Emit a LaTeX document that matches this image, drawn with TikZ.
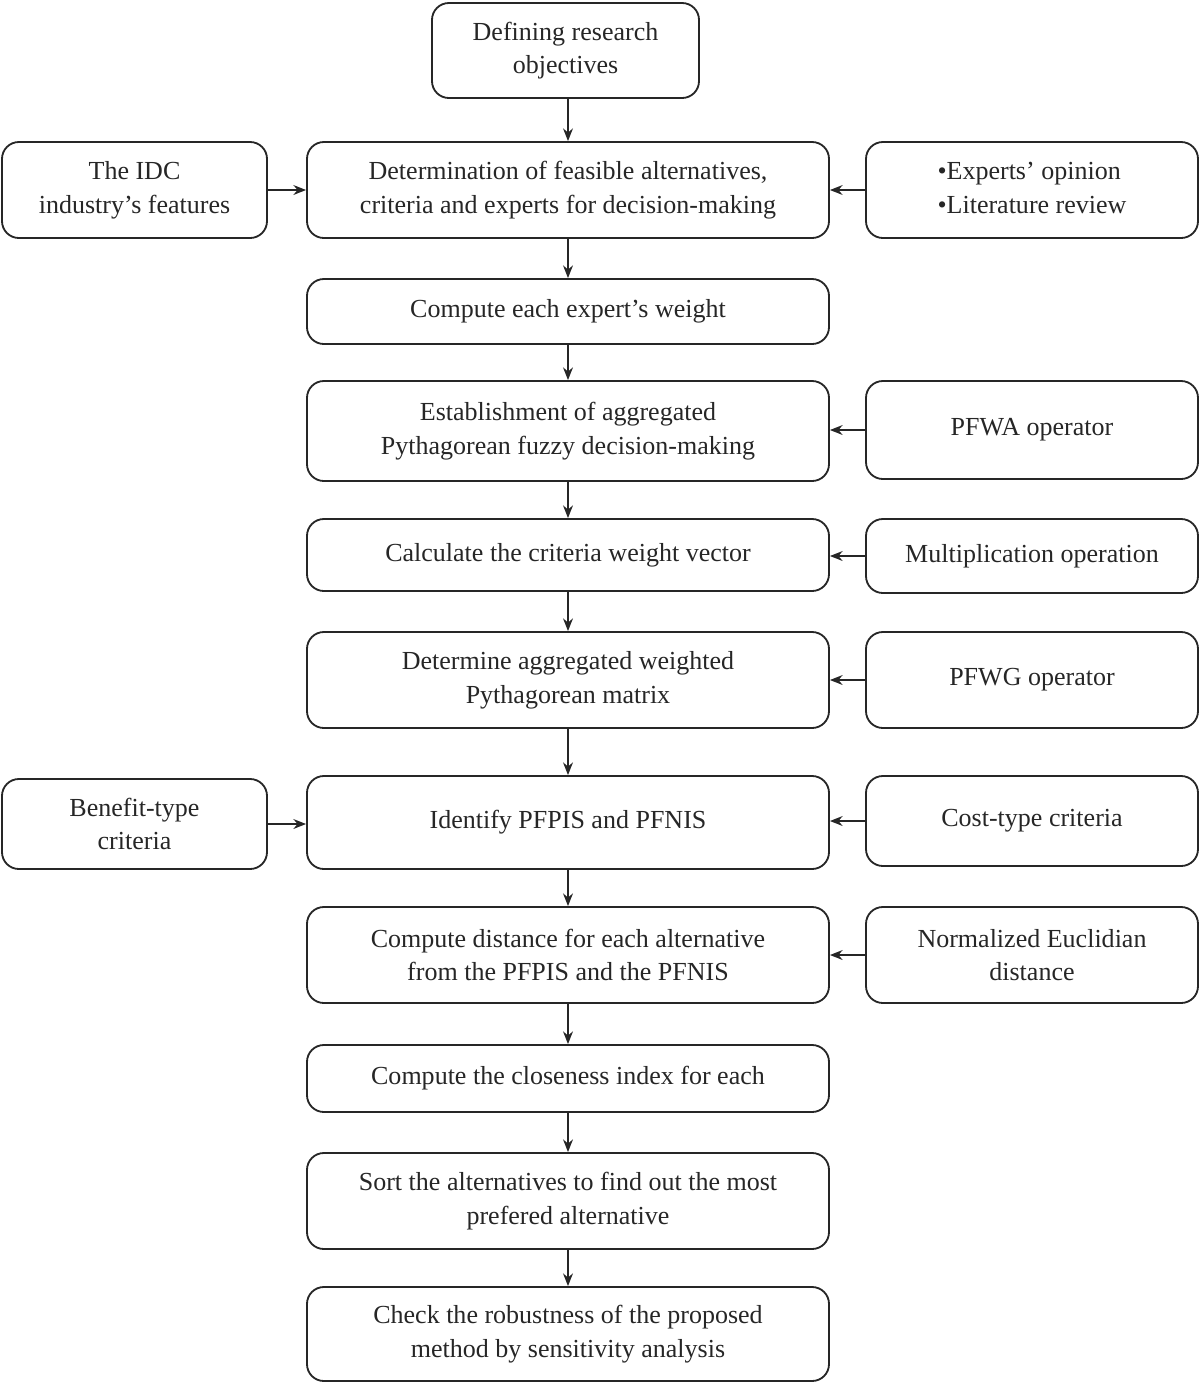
\documentclass[tikz,border=0pt]{standalone}
\usepackage{fontspec}
\setmainfont{Liberation Serif}
\usetikzlibrary{arrows.meta}
\begin{document}
\begin{tikzpicture}[x=0.025cm,y=-0.025cm,
  box/.style={draw=black!85,line width=1.3pt,rounded corners=12pt,align=center,inner sep=0pt,
    font=\fontsize{18.5}{24}\selectfont,text=black!85},
  arr/.style={-{Stealth[length=9pt,width=7pt]},line width=1.3pt,draw=black!85}]
\useasboundingbox (0,0) rectangle (1200,1384);
\def\mw{522}
\node[box,minimum width=267*0.025cm,minimum height=95*0.025cm] (top) at (565.5,50.5) {Defining research\\objectives};
\node[box,minimum width=\mw*0.025cm,minimum height=96*0.025cm] (b1) at (568,190) {Determination of feasible alternatives,\\criteria and experts for decision-making};
\node[box,minimum width=\mw*0.025cm,minimum height=65*0.025cm] (b2) at (568,311.5) {Compute each expert's weight};
\node[box,minimum width=\mw*0.025cm,minimum height=100*0.025cm] (b3) at (568,431) {Establishment of aggregated\\Pythagorean fuzzy decision-making};
\node[box,minimum width=\mw*0.025cm,minimum height=72*0.025cm] (b4) at (568,555) {Calculate the criteria weight vector};
\node[box,minimum width=\mw*0.025cm,minimum height=96*0.025cm] (b5) at (568,680) {Determine aggregated weighted\\Pythagorean matrix};
\node[box,minimum width=\mw*0.025cm,minimum height=93*0.025cm] (b6) at (568,822.5) {Identify PFPIS and PFNIS};
\node[box,minimum width=\mw*0.025cm,minimum height=96*0.025cm] (b7) at (568,955) {Compute distance for each alternative\\from the PFPIS and the PFNIS};
\node[box,minimum width=\mw*0.025cm,minimum height=67*0.025cm] (b8) at (568,1078.5) {Compute the closeness index for each};
\node[box,minimum width=\mw*0.025cm,minimum height=96*0.025cm] (b9) at (568,1201) {Sort the alternatives to find out the most\\prefered alternative};
\node[box,minimum width=\mw*0.025cm,minimum height=94*0.025cm] (b10) at (568,1334) {Check the robustness of the proposed\\method by sensitivity analysis};
\node[box,minimum width=265*0.025cm,minimum height=96*0.025cm] (l1) at (134.5,190) {The IDC\\industry's features};
\node[box,minimum width=265*0.025cm,minimum height=90*0.025cm] (l2) at (134.5,824) {Benefit-type\\criteria};
\node[box,minimum width=332*0.025cm,minimum height=96*0.025cm] (r1) at (1032,190) {\begin{tabular}{@{}l@{}}•Experts' opinion\\•Literature review\end{tabular}};
\node[box,minimum width=332*0.025cm,minimum height=98*0.025cm] (r2) at (1032,430) {PFWA operator};
\node[box,minimum width=332*0.025cm,minimum height=74*0.025cm] (r3) at (1032,556) {Multiplication operation};
\node[box,minimum width=332*0.025cm,minimum height=96*0.025cm] (r4) at (1032,680) {PFWG operator};
\node[box,minimum width=332*0.025cm,minimum height=90*0.025cm] (r5) at (1032,821) {Cost-type criteria};
\node[box,minimum width=332*0.025cm,minimum height=96*0.025cm] (r6) at (1032,955) {Normalized Euclidian\\distance};
\draw[arr] (top.south -| b1.north) -- (b1.north);
\draw[arr] (b1) -- (b2);
\draw[arr] (b2) -- (b3);
\draw[arr] (b3) -- (b4);
\draw[arr] (b4) -- (b5);
\draw[arr] (b5) -- (b6);
\draw[arr] (b6) -- (b7);
\draw[arr] (b7) -- (b8);
\draw[arr] (b8) -- (b9);
\draw[arr] (b9) -- (b10);
\draw[arr] (l1.east) -- (l1.east -| b1.west);
\draw[arr] (l2.east) -- (l2.east -| b6.west);
\draw[arr] (r1.west) -- (r1.west -| b1.east);
\draw[arr] (r2.west) -- (r2.west -| b3.east);
\draw[arr] (r3.west) -- (r3.west -| b4.east);
\draw[arr] (r4.west) -- (r4.west -| b5.east);
\draw[arr] (r5.west) -- (r5.west -| b6.east);
\draw[arr] (r6.west) -- (r6.west -| b7.east);
\end{tikzpicture}
\end{document}
